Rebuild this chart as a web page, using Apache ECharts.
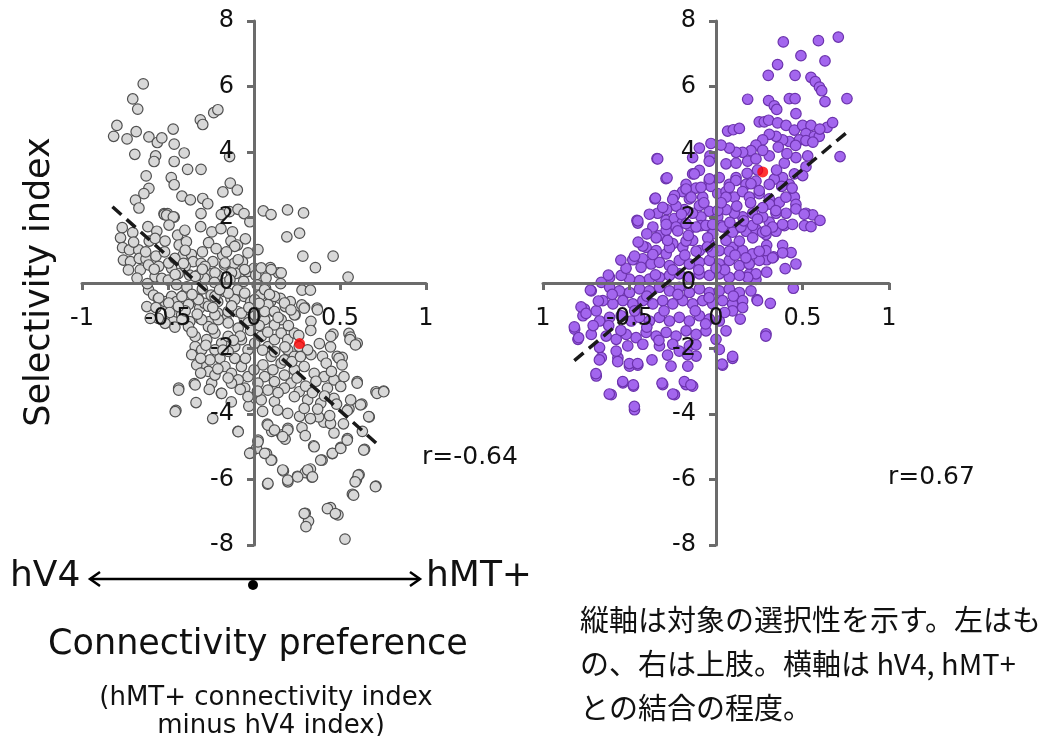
<!DOCTYPE html>
<html>
<head>
<meta charset="utf-8">
<script src="https://cdn.jsdelivr.net/npm/echarts@6/dist/echarts.min.js"></script>
<style>
  html, body { margin: 0; padding: 0; background: #fff; }
  #chart { width: 1051px; height: 736px; }
</style>
</head>
<body>
<div id="chart"></div>
<script>
// axis ticks
const xTicks = [-1, -0.5, 0, 0.5, 1]
const yTicks = [-8, -6, -4, -2, 0, 2, 4, 6, 8]

// left panel: objects (gray)
const grayPoints = [
  [-0.644,6.08],[-0.705,5.62],[-0.676,5.31],[-0.797,4.81],[-0.816,4.48],[-0.738,4.40],[-0.685,4.62],[-0.693,3.93],
  [-0.611,4.46],[-0.562,4.29],[-0.536,4.43],[-0.470,4.70],[-0.464,4.24],[-0.406,3.97],[-0.572,3.88],[-0.581,3.71],
  [-0.464,3.71],[-0.386,3.47],[-0.308,3.47],[-0.312,4.98],[-0.298,4.84],[-0.234,5.20],[-0.210,5.29],[-0.142,3.86],
  [-0.627,3.27],[-0.611,2.89],[-0.640,2.73],[-0.689,2.53],[-0.669,2.29],[-0.481,3.22],[-0.464,3.00],[-0.419,2.65],
  [-0.370,2.54],[-0.298,2.58],[-0.269,2.42],[-0.181,2.78],[-0.138,3.05],[-0.097,2.84],[-0.523,2.12],[-0.503,2.12],
  [-0.464,2.01],[-0.308,2.12],[-0.190,2.09],[-0.142,2.18],[-0.093,2.25],[-0.058,2.12],[-0.024,1.87],[0.054,2.20],
  [0.099,2.09],[0.195,2.23],[0.288,2.14],[0.191,1.41],[0.265,1.52],[0.284,0.82],[0.357,0.47],[0.460,0.82],
  [0.547,0.18],[0.279,-0.22],[0.328,-0.22],[0.367,-0.77],[0.294,-0.74],[0.200,-0.63],[0.142,0.31],[0.155,-0.02],
  [0.095,0.47],[0.459,-1.56],[0.552,-1.54],[0.600,-1.84],[0.561,-1.65],[0.445,-1.95],[0.484,-2.24],[0.513,-2.27],
  [0.600,-3.01],[0.709,-3.32],[0.754,-3.30],[0.627,-3.70],[0.670,-4.09],[0.552,-3.84],[0.630,-4.53],[0.643,-5.08],
  [0.543,-4.75],[0.504,-5.02],[0.455,-5.21],[0.396,-5.41],[0.347,-4.97],[0.465,-4.58],[0.406,-4.25],[0.445,-4.29],
  [0.376,-4.09],[0.328,-4.14],[0.265,-4.07],[0.279,-4.42],[0.298,-4.66],[0.197,-4.44],[0.162,-4.64],[0.181,-4.77],
  [0.103,-4.53],[0.077,-4.31],[0.024,-4.80],[0.015,-5.05],[-0.018,-5.19],[0.073,-5.21],[0.103,-5.41],[0.171,-5.74],
  [0.197,-6.07],[0.253,-5.90],[0.298,-5.79],[0.328,-5.68],[0.337,-5.93],[0.079,-6.14],[0.611,-5.85],[0.595,-6.02],
  [0.572,-6.45],[0.709,-6.20],[0.298,-7.03],[0.317,-7.27],[0.302,-7.44],[0.445,-6.86],[0.488,-7.08],[0.529,-7.82],
  [-0.093,-4.53],[-0.240,-4.14],[-0.454,-3.89],[-0.337,-3.65],[-0.438,-3.21],[-0.347,-3.07],[-0.190,-3.37],[-0.132,-3.63],
  [-0.030,-3.76],[0.050,-3.92],
  [-0.766,1.69],[-0.776,1.38],[-0.705,1.54],[-0.764,1.08],[-0.724,1.01],[-0.670,1.01],[-0.759,0.70],[-0.718,0.65],
  [-0.667,0.75],[-0.628,0.73],[-0.661,0.40],[-0.613,0.55],[-0.575,0.19],[-0.609,1.28],[-0.617,1.72],[-0.565,1.58],
  [-0.575,1.36],[-0.517,1.28],[-0.521,2.09],[-0.508,2.07],[-0.469,2.02],[-0.494,1.77],[-0.444,1.46],[-0.435,1.16],
  [-0.402,1.61],[-0.393,1.26],[-0.412,0.85],[-0.364,0.87],[-0.354,0.65],[-0.307,0.60],[-0.310,1.72],[-0.264,1.23],
  [-0.245,1.56],[-0.192,1.66],[-0.125,1.56],[-0.134,1.28],[-0.096,1.16],[-0.182,0.85],[-0.239,0.65],[-0.172,0.55],
  [-0.115,0.60],[-0.067,0.65],[-0.038,0.35],[0.000,0.45],[0.010,0.24],[0.019,-0.06],[-0.105,0.29],[-0.211,0.24],
  [-0.259,0.29],[-0.287,0.14],[-0.326,0.24],[-0.374,0.24],[-0.441,0.29],[-0.479,0.45],[-0.536,0.14],[-0.498,0.09],
  [-0.613,-0.21],[-0.623,-0.72],[-0.584,-0.37],[-0.556,-0.47],[-0.517,-0.57],[-0.479,-0.41],[-0.450,-0.57],[-0.402,-0.35],
  [-0.374,-0.57],[-0.326,-0.47],[-0.316,-0.77],[-0.287,-0.62],[-0.249,-0.37],[-0.211,-0.57],[-0.172,-0.26],[-0.134,-0.47],
  [-0.096,-0.21],[-0.057,-0.41],[-0.019,-0.57],[0.038,-0.37],[0.067,-0.16],[0.096,-0.57],[0.153,-0.47],[0.182,-0.72],
  [0.211,-0.57],[0.239,-0.97],[0.278,-0.67],[0.115,-0.87],[0.057,-1.08],[0.019,-0.97],[-0.057,-1.08],[-0.096,-0.87],
  [-0.163,-1.08],[-0.211,-0.92],[-0.259,-1.18],[-0.316,-1.08],[-0.374,-1.18],[-0.421,-0.97],[-0.469,-1.18],[-0.517,-1.23],
  [-0.556,-1.08],[-0.603,-1.08],
  [-0.342,-1.94],[-0.323,-2.19],[-0.294,-2.45],[-0.265,-2.70],[-0.342,-1.63],[-0.275,-1.73],[-0.227,-1.53],[-0.188,-1.84],
  [-0.150,-1.63],[-0.112,-1.94],[-0.073,-1.73],[-0.035,-2.04],[0.004,-1.84],[0.042,-1.63],[0.081,-1.94],[0.119,-1.73],
  [0.158,-1.53],[0.196,-1.73],[0.235,-1.53],[0.292,-0.77],[0.369,-0.82],[0.331,-1.17],[0.446,-1.63],[0.558,-1.73],
  [0.590,-1.89],[0.331,-2.19],[0.398,-2.24],[0.494,-2.30],[0.512,-2.50],[0.292,-2.55],[0.350,-2.76],[0.408,-2.86],
  [0.465,-2.96],[0.523,-2.86],[0.600,-3.06],[0.427,-3.21],[0.504,-3.16],[0.562,-3.57],[0.619,-3.72],[0.542,-3.90],
  [0.465,-3.52],[0.388,-3.67],[0.312,-3.57],[0.263,-3.32],[0.215,-3.06],[0.177,-2.81],[0.235,-2.65],[0.158,-2.45],
  [0.100,-2.24],[0.052,-2.50],[0.110,-2.65],[0.062,-2.86],[0.119,-3.01],[0.177,-3.21],[0.081,-3.27],[0.023,-3.06],
  [-0.035,-2.86],[-0.073,-2.55],[-0.112,-2.30],[-0.150,-2.09],[-0.198,-2.30],[-0.169,-2.55],[-0.131,-2.76],[-0.092,-2.96],
  [-0.054,-3.21],[-0.035,-3.47],[-0.131,-3.06],[-0.188,-3.37],[-0.246,-3.06],[-0.227,-2.81],[-0.256,-2.35],[-0.227,-2.04],
  [-0.304,-2.04],[-0.362,-2.19],[-0.333,-2.50],[0.196,-2.04],[0.235,-2.24],[0.263,-1.94],[0.312,-2.04],[0.177,-2.35],
  [0.042,-3.57],[0.119,-3.62],[0.235,-3.47],[0.292,-3.83],[0.196,-3.98],[0.138,-3.88],[0.235,-0.97],[0.158,-1.12],
  [0.119,-1.28],[0.062,-1.12],[-0.035,-1.22],[-0.092,-1.38],[-0.150,-1.22],[-0.208,-1.12],[-0.265,-1.33],[-0.304,-1.12],
  [-0.381,-1.33],[-0.419,-1.12],[-0.438,-3.27],[-0.342,-3.11],[-0.458,-3.93],[-0.092,-4.54],[0.023,-4.85],[-0.025,-5.20],
  [0.081,-4.34],[0.119,-4.49],[0.196,-4.49],[0.167,-4.69],[0.350,-5.00],[0.388,-5.41],[0.456,-5.20],[0.504,-5.05],
  [0.542,-4.80],[0.638,-5.10],[0.715,-3.37],[0.754,-3.32],[0.667,-4.08],[0.081,-6.12],[0.196,-6.02],[0.254,-5.92],
  [0.312,-5.71],[0.340,-5.92],[0.167,-5.71],[0.100,-5.41],[0.062,-5.20],[0.606,-5.87],[0.588,-6.07],[0.579,-6.48],
  [0.706,-6.22],[0.292,-7.04],[0.427,-6.89],[0.473,-7.04],
  [0.023,1.02],[0.042,0.46],[0.100,0.41],[0.158,0.31],[-0.035,0.92],[-0.054,0.41],[-0.092,0.71],[-0.131,0.31],
  [-0.169,0.61],[-0.112,1.12],[-0.169,0.00],[-0.227,0.31],[-0.285,0.51],[-0.342,0.20],[-0.400,0.51],[-0.458,0.26],
  [-0.496,0.61],[-0.554,0.51],[0.062,-0.20],[0.119,-0.41],[0.177,-0.61],[0.215,-0.82],[0.081,-0.66],[0.004,-0.51],
  [-0.054,-0.31],[-0.112,-0.51],[-0.150,-0.31],[-0.227,-0.41],[-0.265,-0.71],[-0.323,-0.51],[-0.381,-0.66],[-0.419,-0.41],
  [-0.496,-0.61],[-0.554,-0.46],[-0.073,-0.92],[-0.150,-0.87],[-0.227,-0.97],[0.004,-0.97],[0.062,-0.87],[0.119,-0.87],
  [-0.02,-1.45],[0.03,-1.30],[-0.08,-1.62],[0.08,-1.50],[0.12,-2.10],[0.18,-1.95],[0.22,-2.40],[0.27,-2.25],
  [-0.05,-2.30],[-0.18,-2.05],[-0.28,-1.90],[-0.31,-2.30],[-0.21,-2.62],[0.00,-2.65],[0.05,-2.05],[-0.12,-1.75],
  [-0.24,-1.40],[-0.36,-1.50],[-0.46,-1.35],[-0.40,-0.85],[-0.33,-0.95],[-0.24,-0.75],[-0.13,-0.70],[-0.03,-0.75],
  [0.03,-0.62],[0.14,-1.05],[0.20,-1.30],[0.26,-1.60],[0.33,-1.45],[0.38,-1.85],[0.42,-2.45],[0.45,-2.70],
  [0.36,-3.00],[0.30,-3.15],[0.25,-2.90],[0.14,-3.35],[0.02,-3.30],[-0.08,-3.25],[-0.15,-2.90],[-0.26,-3.25],
  [-0.31,-2.75],[0.34,-3.35],[0.41,-3.45],[0.48,-3.70],[0.37,-3.85],[0.44,-4.05],[0.52,-4.30],[-0.63,0.95],
  [-0.57,0.82],[-0.52,0.95],[-0.46,0.75],[-0.40,1.00],[-0.30,0.95],[-0.22,1.05],[-0.16,0.95],[-0.05,1.35],
  [-0.70,1.25],[-0.73,0.40],[-0.68,0.15],[-0.62,-0.02],[-0.45,-0.05],[-0.39,-0.12],[-0.30,-0.18],[-0.23,0.02],
  [-0.14,0.10],[-0.06,0.05],[0.07,0.15],[0.09,-0.35],[-0.20,-0.20],[-0.57,-0.75],[-0.49,-0.90],[-0.44,-0.72],
  [-0.36,-0.35],[-0.30,0.42],[-0.41,0.60],[-0.58,0.42]
]
const grayHighlight = [[0.265, -1.85]]
const grayFit = [[-0.823, 2.33], [0.730, -4.98]]
const grayR = 'r=-0.64'

// right panel: upper limbs (purple)
const purplePoints = [
  [0.389,7.36],[0.592,7.40],[0.707,7.51],[0.491,6.94],[0.356,6.67],[0.630,6.78],[0.302,6.34],[0.457,6.34],
  [0.549,6.28],[0.574,6.15],[0.598,5.98],[0.611,5.87],[0.183,5.61],[0.304,5.57],[0.337,5.41],[0.351,5.30],
  [0.424,5.63],[0.457,5.63],[0.462,5.17],[0.630,5.54],[0.757,5.63],[0.642,4.75],[0.674,4.90],[0.717,3.86],
  [0.067,4.64],[0.100,4.68],[0.135,4.72],[0.250,4.92],[0.279,4.92],[0.304,4.97],[0.356,4.89],[0.405,4.81],
  [0.453,4.67],[0.501,4.81],[0.549,4.81],[0.520,4.56],[0.568,4.48],[0.597,4.48],[0.482,4.37],[0.424,4.32],
  [0.385,4.37],[0.347,4.48],[0.308,4.54],[0.270,4.37],[0.231,4.21],[0.202,4.04],[0.154,3.99],[0.116,3.99],
  [0.077,4.12],[0.029,4.21],[-0.029,4.26],[-0.035,3.88],[-0.096,4.12],[-0.135,3.83],[-0.341,3.80],[-0.289,3.19],
  [-0.353,2.57],[-0.457,1.91],[-0.039,3.72],[0.058,3.64],[0.116,3.66],[0.183,3.72],[0.231,3.79],[0.308,3.88],
  [0.395,3.66],[0.462,3.83],[0.530,3.88],[0.520,3.55],[0.453,3.33],[0.501,3.28],[0.424,3.01],[0.385,3.22],
  [0.337,3.17],[0.308,3.01],[0.231,3.11],[0.173,3.01],[0.116,3.22],[0.077,3.01],[0.019,3.22],[-0.039,3.11],
  [-0.096,3.44],[-0.135,3.33],[-0.173,3.01],[-0.116,2.90],[-0.193,2.79],[-0.154,2.57],[-0.077,2.62],[-0.029,2.95],
  [0.010,2.73],[0.058,2.79],[0.106,2.62],[0.154,2.79],[0.193,2.62],[0.250,2.73],[0.308,2.57],[0.366,2.46],
  [0.453,2.62],[0.462,2.40],[0.405,2.13],[0.520,2.13],[0.559,2.08],[0.601,1.91],[0.511,1.75],[0.549,1.72],
  [0.347,2.13],[0.308,1.86],[0.270,2.02],[0.212,2.13],[0.154,2.02],[0.106,2.13],[0.058,2.24],[0.010,2.02],
  [-0.039,2.19],[-0.087,2.02],[-0.135,2.13],[-0.183,2.24],[-0.231,2.35],[-0.285,2.24],[-0.337,2.13],[-0.289,1.91],
  [-0.241,1.97],[-0.193,1.86],[-0.145,1.69],[-0.087,1.75],[-0.029,1.69],[0.029,1.75],[0.077,1.58],[0.125,1.69],
  [0.173,1.58],[0.231,1.64],[0.289,1.48],[0.347,1.58],[0.395,1.75],[0.293,1.15],[0.385,1.15],[0.434,0.93],
  [0.462,0.58],[0.293,0.71],[0.333,0.80],[0.400,0.44],[0.293,0.33],[0.189,0.60],[0.193,0.27],[0.231,0.11],
  [0.237,-0.51],[0.314,-0.62],[0.447,-0.16],[0.289,-1.55],
  [-0.452,1.83],[-0.365,1.71],[-0.327,1.45],[-0.288,1.61],[-0.231,1.71],[-0.173,1.81],[-0.115,1.71],[-0.058,1.76],
  [-0.019,1.50],[0.038,1.71],[0.096,1.55],[0.144,1.71],[0.212,1.76],[0.269,1.55],[0.327,1.71],[0.288,0.99],
  [0.250,0.69],[0.212,0.89],[0.154,0.99],[0.096,1.09],[0.058,1.30],[0.019,0.99],[-0.038,1.20],[-0.096,0.99],
  [-0.135,1.30],[-0.192,1.09],[-0.250,1.20],[-0.288,0.89],[-0.346,0.99],[-0.404,1.09],[-0.423,0.74],[-0.481,0.71],
  [-0.433,0.48],[-0.375,0.58],[-0.327,0.63],[-0.269,0.53],[-0.212,0.69],[-0.154,0.58],[-0.096,0.63],[-0.038,0.69],
  [0.019,0.58],[0.077,0.69],[0.135,0.53],[0.192,0.58],[0.231,0.28],[0.183,0.17],[0.135,0.23],[0.077,0.17],
  [0.019,0.28],[-0.038,0.23],[-0.096,0.28],[-0.154,0.17],[-0.212,0.28],[-0.269,0.23],[-0.327,0.17],[-0.385,0.12],
  [-0.442,0.07],[-0.500,0.12],[-0.548,0.23],[-0.615,0.17],[-0.663,0.02],[-0.721,-0.24],[-0.615,-0.13],[-0.558,-0.24],
  [-0.500,-0.29],[-0.442,-0.18],[-0.385,-0.24],[-0.327,-0.13],[-0.269,-0.24],[-0.212,-0.13],[-0.154,-0.29],[-0.096,-0.18],
  [-0.038,-0.29],[0.019,-0.24],[0.077,-0.18],[0.135,-0.29],[0.202,-0.24],[0.240,-0.54],[0.154,-0.54],[0.096,-0.64],
  [0.038,-0.54],[-0.019,-0.64],[-0.077,-0.54],[-0.135,-0.64],[-0.192,-0.54],[-0.250,-0.64],[-0.308,-0.54],[-0.365,-0.64],
  [-0.423,-0.54],[-0.481,-0.64],[-0.538,-0.54],[-0.596,-0.64],[-0.654,-0.54],[-0.692,-0.85],[-0.760,-0.80],[-0.769,-1.00],
  [-0.817,-1.41],[-0.798,-1.72],[-0.721,-1.57],[-0.673,-1.16],[-0.615,-1.05],[-0.548,-1.00],[-0.490,-1.16],[-0.442,-1.05],
  [-0.385,-1.16],[-0.327,-1.05],[-0.269,-1.16],[-0.212,-1.05],[-0.154,-1.16],[-0.096,-1.00],[-0.038,-1.10],[0.019,-1.16],
  [0.096,-0.85],[0.154,-0.75],[0.058,-1.46],[0.000,-1.72],[0.019,-2.03],[0.096,-2.30],[0.038,-2.51],[0.288,-1.62],
  [-0.058,-1.46],[-0.115,-1.57],[-0.173,-1.46],[-0.231,-1.62],[-0.288,-1.51],[-0.346,-1.62],[-0.404,-1.51],[-0.462,-1.67],
  [-0.519,-1.57],[-0.577,-1.72],[-0.635,-1.62],[-0.673,-1.97],[-0.663,-2.28],[-0.567,-2.28],[-0.577,-2.08],[-0.500,-2.54],
  [-0.452,-2.51],[-0.510,-1.92],[-0.423,-1.87],[-0.327,-1.92],[-0.250,-1.87],[-0.212,-2.08],[-0.154,-1.92],[-0.115,-2.23],
  [-0.163,-2.54],[-0.260,-2.54],[-0.240,-3.41],[-0.173,-3.10],[-0.135,-3.15],[-0.308,-3.10],[-0.471,-3.87],[-0.538,-3.05],
  [-0.477,-3.15],[-0.606,-3.41],[-0.692,-2.84],
  [-0.819,-1.34],[-0.794,-1.67],[-0.780,-0.73],[-0.751,-0.93],[-0.726,-0.22],[-0.694,-2.77],[-0.674,-2.35],[-0.617,-3.39],
  [-0.539,-3.01],[-0.472,-3.77],[-0.478,-3.11],[-0.501,-2.46],[-0.453,-2.46],[-0.312,-3.06],[-0.250,-3.39],[-0.183,-3.01],
  [-0.145,-3.11],[-0.164,-2.19],[-0.116,-1.89],[0.035,-2.48],[0.096,-2.24],[-0.568,-2.40],[-0.622,0.24],
  [-0.337,3.79],[-0.283,3.21],[-0.350,2.59],[-0.452,1.90],[-0.385,2.10],[-0.308,2.31],[-0.240,2.67],[-0.173,2.87],
  [-0.125,3.33],[-0.144,2.62],[-0.087,2.92],[-0.038,3.18],[-0.096,2.36],[-0.288,1.79],[-0.221,1.59],[-0.346,1.38],
  [-0.423,1.13],[-0.471,0.82],[-0.365,0.87],[-0.269,1.08],[-0.173,1.28],[-0.115,0.97],[-0.048,1.38],[-0.019,1.79],
  [0.010,2.21],[0.058,2.62],[0.115,3.13],[0.077,2.92],[0.202,3.03],[0.250,2.82],[0.308,2.41],[0.346,2.21],
  [0.404,2.62],[0.462,2.26],[0.510,2.10],[0.442,1.79],[0.385,1.79],[0.288,1.59],[0.212,1.38],[0.135,1.28],
  [0.077,0.97],[0.173,0.77],[0.250,0.97],[0.327,0.77],[0.385,0.92],
  [-0.25,0.40],[-0.18,0.85],[-0.10,0.40],[-0.02,0.95],[0.05,0.40],[0.11,0.85],[-0.05,1.10],[-0.28,1.30],
  [-0.35,0.25],[-0.52,0.45],[-0.60,-0.35],[-0.47,-0.85],[-0.40,-0.40],[-0.30,-0.85],[-0.22,-0.35],[-0.12,-0.85],
  [-0.04,-0.45],[0.05,-0.90],[0.10,-0.40],[-0.07,2.45],[0.03,2.45],[0.12,2.35],[0.16,1.90],[0.24,1.95],
  [0.20,2.45],[0.27,2.30],[0.18,3.35],[0.24,3.45],[0.35,3.45],[0.41,3.95],[0.46,4.20],[0.52,4.35],
  [0.36,4.15],[0.27,4.05],[0.60,4.70],[0.56,4.30],[-0.20,2.10],[-0.25,2.55],[-0.40,1.50],[-0.45,1.25],
  [-0.55,0.70],[-0.68,-0.55],[-0.71,-1.30],[-0.62,-1.30],[-0.55,-1.45],[-0.40,-1.35],[-0.33,-1.75],[-0.28,-2.20],
  [-0.37,-2.35],[-0.06,-1.25],[0.14,-1.10],[0.00,0.45],[-0.16,1.45],[0.08,1.85],[0.38,2.95],[0.44,2.90]
]
const purpleHighlight = [[0.270, 3.39]]
const purpleFit = [[-0.819, -2.37], [0.761, 4.62]]
const purpleR = 'r=0.67'

const noteLines = [
  '縦軸は対象の選択性を示す。左はも',
  'の、右は上肢。横軸は hV4, hMT+',
  'との結合の程度。'
]

const chart = echarts.init(document.getElementById('chart'))

const axisColor = '#6b6b6b'
const labelFont = 'DejaVu Sans'

// grids; the axes are shifted onto zero with offset
const grids = [
  { left: 82, top: 21, width: 344, height: 524 },
  { left: 543, top: 21, width: 346, height: 524 }
]

function makeX(idx, fmt) {
  const g = grids[idx]
  return {
    type: 'value', gridIndex: idx, min: -1, max: 1, interval: 0.5,
    position: 'bottom', offset: -g.height / 2, z: 5,
    axisLine: { onZero: false, lineStyle: { color: axisColor, width: 3 } },
    axisTick: { show: true, length: 7, lineStyle: { color: axisColor, width: 3 } },
    axisLabel: { fontSize: 24, color: '#111', fontFamily: labelFont, margin: 24, formatter: fmt, showMinLabel: true, showMaxLabel: true },
    splitLine: { show: false }
  }
}
function makeY(idx) {
  const g = grids[idx]
  return {
    type: 'value', gridIndex: idx, min: -8, max: 8, interval: 2,
    position: 'left', offset: -g.width / 2, z: 5,
    axisLine: { onZero: false, lineStyle: { color: axisColor, width: 3 } },
    axisTick: { show: true, length: 7, lineStyle: { color: axisColor, width: 3 } },
    axisLabel: { fontSize: 24, color: '#111', fontFamily: labelFont, margin: 20, showMinLabel: true, showMaxLabel: true },
    splitLine: { show: false }
  }
}

function scatter(idx, data, fill, border) {
  return {
    type: 'scatter', xAxisIndex: idx, yAxisIndex: idx, data: data,
    symbolSize: 10.5,
    itemStyle: { color: fill, borderColor: border, borderWidth: 1.2, opacity: 1 },
    z: 2
  }
}
function fitLine(idx, data) {
  return {
    type: 'line', xAxisIndex: idx, yAxisIndex: idx, data: data,
    symbol: 'none',
    lineStyle: { color: '#1a1a1a', width: 3.5, type: [12, 7] },
    z: 6
  }
}
function highlight(idx, data) {
  return {
    type: 'scatter', xAxisIndex: idx, yAxisIndex: idx, data: data,
    symbolSize: 11, itemStyle: { color: '#ff0000' }, z: 7
  }
}

const txt = (x, y, text, size, extra, rotation) => ({
  type: 'text', x: x, y: y, rotation: rotation || 0,
  style: Object.assign({ text: text, font: size + 'px "DejaVu Sans"', fill: '#111', textVerticalAlign: 'middle' }, extra || {})
})
const jp = { font: '29px "Noto Sans CJK JP"' }

chart.setOption({
  animation: false,
  backgroundColor: '#fff',
  grid: grids,
  xAxis: [makeX(0), makeX(1, v => v === -1 ? '1' : String(v))],
  yAxis: [makeY(0), makeY(1)],
  series: [
    scatter(0, grayPoints, '#d8d8d8', '#505050'),
    fitLine(0, grayFit),
    highlight(0, grayHighlight),
    scatter(1, purplePoints, '#a366ee', '#6c33ad'),
    fitLine(1, purpleFit),
    highlight(1, purpleHighlight)
  ],
  graphic: [
    txt(40, 282, 'Selectivity index', 35, { textAlign: 'center' }, Math.PI / 2),
    txt(422, 457, grayR, 25),
    txt(888, 477, purpleR, 25),
    txt(10, 577, 'hV4', 36),
    txt(426, 577, 'hMT+', 36),
    { type: 'line', shape: { x1: 90, y1: 579, x2: 420, y2: 579 }, style: { stroke: '#000', lineWidth: 2.5 } },
    { type: 'polyline', shape: { points: [[100, 572], [90, 579], [100, 586]] }, style: { stroke: '#000', lineWidth: 2.5, fill: null } },
    { type: 'polyline', shape: { points: [[410, 572], [420, 579], [410, 586]] }, style: { stroke: '#000', lineWidth: 2.5, fill: null } },
    { type: 'circle', shape: { cx: 253, cy: 585, r: 5 }, style: { fill: '#000' } },
    txt(258, 645, 'Connectivity preference', 35, { textAlign: 'center' }),
    txt(266, 698, '(hMT+ connectivity index', 26, { textAlign: 'center' }),
    txt(271, 726, 'minus hV4 index)', 26, { textAlign: 'center' }),
    txt(580, 620, noteLines[0], 29, jp),
    txt(580, 664, noteLines[1], 29, jp),
    txt(580, 708, noteLines[2], 29, jp)
  ]
})
</script>
</body>
</html>
